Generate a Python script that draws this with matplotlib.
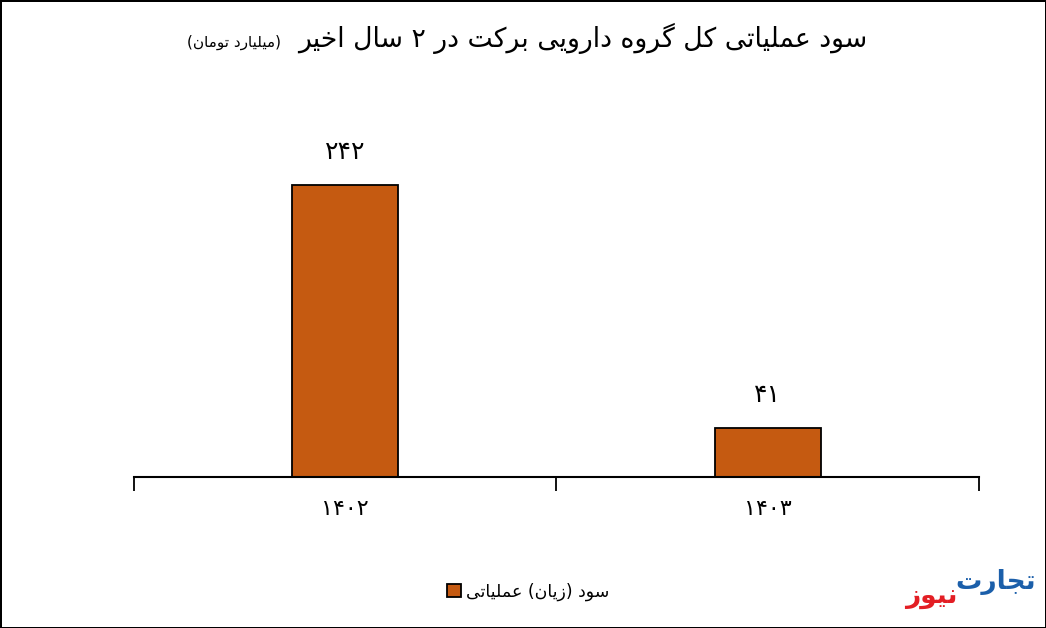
import matplotlib
matplotlib.use('Agg')
import matplotlib.pyplot as plt
from matplotlib.patches import Patch

# chart data
years = ['۱۴۰۲', '۱۴۰۳']
profit = [242, 41]
title_main = 'سود عملیاتی کل گروه دارویی برکت در ۲ سال اخیر'
title_unit = '(میلیارد تومان)'
series_name = 'سود (زیان) عملیاتی'
bar_color = '#C55A11'

# minimal Arabic-script shaping (isolated, final, initial, medial)
FORMS = {
    'ا': ('\uFE8D', '\uFE8E', None, None),
    'ب': ('\uFE8F', '\uFE90', '\uFE91', '\uFE92'),
    'پ': ('\uFB56', '\uFB57', '\uFB58', '\uFB59'),
    'ت': ('\uFE95', '\uFE96', '\uFE97', '\uFE98'),
    'ج': ('\uFE9D', '\uFE9E', '\uFE9F', '\uFEA0'),
    'خ': ('\uFEA5', '\uFEA6', '\uFEA7', '\uFEA8'),
    'د': ('\uFEA9', '\uFEAA', None, None),
    'ر': ('\uFEAD', '\uFEAE', None, None),
    'ز': ('\uFEAF', '\uFEB0', None, None),
    'س': ('\uFEB1', '\uFEB2', '\uFEB3', '\uFEB4'),
    'ع': ('\uFEC9', '\uFECA', '\uFECB', '\uFECC'),
    'ل': ('\uFEDD', '\uFEDE', '\uFEDF', '\uFEE0'),
    'م': ('\uFEE1', '\uFEE2', '\uFEE3', '\uFEE4'),
    'ن': ('\uFEE5', '\uFEE6', '\uFEE7', '\uFEE8'),
    'ه': ('\uFEE9', '\uFEEA', '\uFEEB', '\uFEEC'),
    'و': ('\uFEED', '\uFEEE', None, None),
    'ی': ('\uFBFC', '\uFBFD', '\uFBFE', '\uFBFF'),
    'ک': ('\uFB8E', '\uFB8F', '\uFB90', '\uFB91'),
    'گ': ('\uFB92', '\uFB93', '\uFB94', '\uFB95'),
}


def fa(text):
    out = []
    for i, c in enumerate(text):
        if c not in FORMS:
            out.append(c)
            continue
        prev = text[i - 1] if i > 0 else ''
        nxt = text[i + 1] if i + 1 < len(text) else ''
        jp = prev in FORMS and FORMS[prev][2] is not None
        jn = nxt in FORMS and FORMS[c][2] is not None
        iso, fin, ini, med = FORMS[c]
        out.append(med if jp and jn else fin if jp else ini if jn else iso)
    s = ''.join(out)[::-1]
    return s.translate(str.maketrans('()', ')('))


def fa_num(n):
    return str(n).translate(str.maketrans('0123456789', '۰۱۲۳۴۵۶۷۸۹'))


plt.rcParams['font.family'] = ['DejaVu Sans']

fig = plt.figure(figsize=(10.46, 6.28), dpi=100)
fig.patch.set_edgecolor('black')
fig.patch.set_linewidth(2)
ax = fig.add_axes([0.1281, 0.2404, 0.8078, 0.6322])

x = range(len(years))
bars = ax.bar(x, profit, 0.25, color=bar_color, edgecolor='black', linewidth=1.3)
for xi, v in zip(x, profit):
    ax.annotate(fa_num(v), (xi, v), xytext=(0, 15), textcoords='offset points',
                ha='center', va='bottom', fontsize=18)

ax.set_xlim(-0.5, 1.5)
ax.set_ylim(0, 329)
ax.set_yticks([])
for s in ['left', 'right', 'top']:
    ax.spines[s].set_visible(False)
ax.spines['bottom'].set_linewidth(1.5)
ax.set_xticks([-0.5, 0.5, 1.5])
ax.set_xticklabels([])
ax.tick_params(axis='x', which='major', length=10, width=1.3, direction='out')
ax.set_xticks(list(x), minor=True)
ax.set_xticklabels(years, minor=True, fontsize=16)
ax.tick_params(axis='x', which='minor', length=0, pad=16)

fig.text(867 / 1046, 1 - 38 / 628, fa(title_main), ha='right', va='center', fontsize=19.2)
fig.text(281 / 1046, 1 - 42 / 628, fa(title_unit), ha='right', va='center', fontsize=11)

leg_handle = Patch(facecolor=bar_color, edgecolor='black', linewidth=1.3)
fig.legend([leg_handle], [fa(series_name)], loc='center', bbox_to_anchor=(528 / 1046, 1 - 592 / 628),
           frameon=False, fontsize=12.5, handlelength=0.8, handleheight=0.8, handletextpad=0.3)

# logo
fig.text(1036 / 1046, 1 - 582 / 628, fa('تجارت'), ha='right', va='center', fontsize=19,
         fontweight='bold', color='#1B5FAA')
fig.text(957 / 1046, 1 - 597 / 628, fa('نیوز'), ha='right', va='center', fontsize=19,
         fontweight='bold', color='#E31E24')

fig.savefig('out.png', dpi=100)
